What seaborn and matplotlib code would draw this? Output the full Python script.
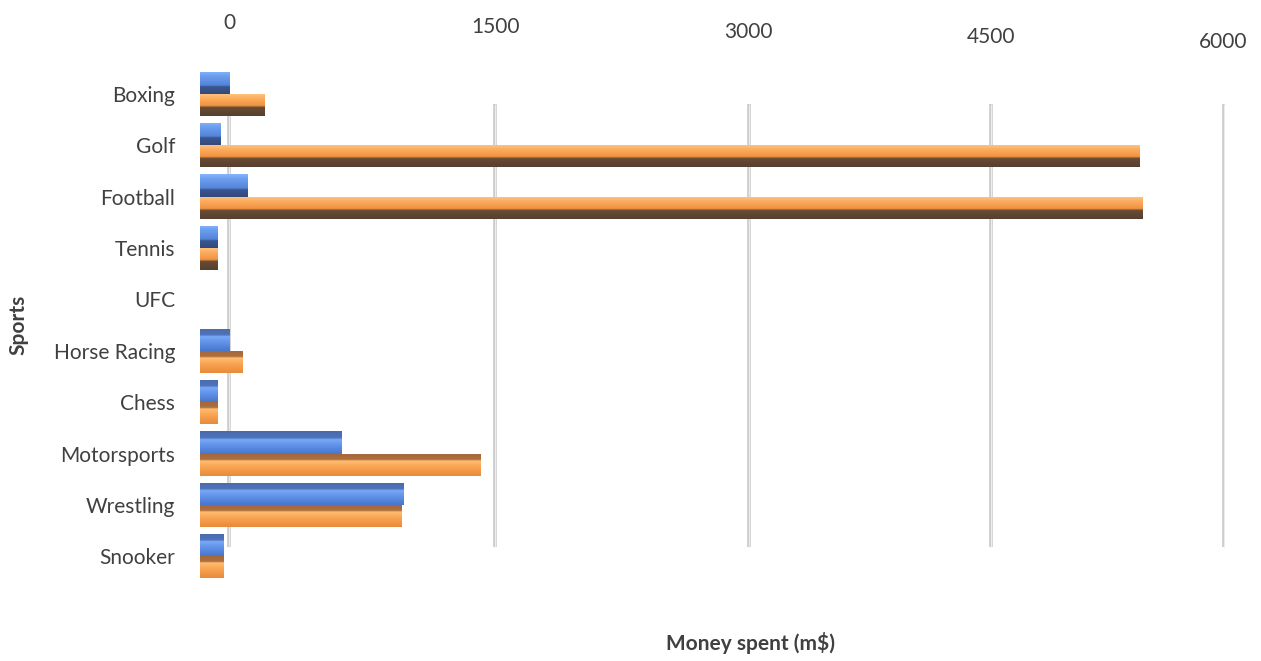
import numpy as np
import pandas as pd
import matplotlib
matplotlib.use("Agg")
import matplotlib.pyplot as plt
import matplotlib.transforms as mtransforms
from matplotlib.colors import to_rgb
import seaborn as sns

# ---- data -------------------------------------------------------------
sports = ["Boxing", "Golf", "Football", "Tennis", "UFC", "Horse Racing",
          "Chess", "Motorsports", "Wrestling", "Snooker"]
series_blue = [170, 120, 280, 100, 0, 170, 100, 830, 1190, 140]
series_orange = [380, 5500, 5520, 100, 0, 250, 100, 1640, 1180, 140]
series_names = ["Series1", "Series2"]
x_ticks = [0, 1500, 3000, 4500, 6000]
x_tick_labels = ["0", "1500", "3000", "4500", "6000"]

# back-wall offsets (points) giving the receding 3-D floor its perspective
wall_dx = [21, 28, 26, 16, -1]
wall_dy = [32.5, 29.6, 26.0, 22.4, 18.6]

sns.set_theme(style="white")
plt.rcParams["font.family"] = ["Lato", "DejaVu Sans"]

df = pd.DataFrame({
    "Sport": sports * 2,
    "Series": [series_names[0]] * len(sports) + [series_names[1]] * len(sports),
    "Value": series_blue + series_orange,
})

W, H = 1261, 661
fig = plt.figure(figsize=(W / 100, H / 100), dpi=100)
ax = fig.add_axes([200 / W, 1 - 582 / H, 1025 / W, 514 / H])

palette = {"Series1": "#5b8de0", "Series2": "#f59a48"}
sns.barplot(data=df, y="Sport", x="Value", hue="Series", hue_order=series_names,
            order=sports, palette=palette, orient="h", width=0.86,
            linewidth=0, legend=False, ax=ax, zorder=3)

# ---- 3-D style shading of each bar -----------------------------------
def ramp(stops, n=80):
    pos = np.array([s[0] for s in stops])
    cols = np.array([to_rgb(s[1]) for s in stops])
    t = np.linspace(0, 1, n)
    return np.stack([np.interp(t, pos, cols[:, k]) for k in range(3)], axis=1)[:, None, :]

shade = {
    # bars above eye level: light front face, dark underside
    ("Series1", "up"): ramp([(0, "#86b4ff"), (0.2, "#6d9ff0"), (0.62, "#5283d8"),
                             (0.68, "#3a5690"), (1, "#33497a")]),
    ("Series2", "up"): ramp([(0, "#ffc785"), (0.2, "#fdae62"), (0.55, "#f0923e"),
                             (0.62, "#6a4b34"), (1, "#54402f")]),
    # bars below eye level: darker top face, then the front face
    ("Series1", "down"): ramp([(0, "#4a6aa8"), (0.3, "#4f74bd"), (0.36, "#7aa9f8"),
                               (0.6, "#6294ea"), (1, "#4876cc")]),
    ("Series2", "down"): ramp([(0, "#a3663a"), (0.28, "#b0703f"), (0.34, "#ffbd70"),
                               (0.6, "#f9a453"), (1, "#e88a3a")]),
}

n_cat = len(sports)
for name, cont in zip(series_names, ax.containers):
    for i, patch in enumerate(cont.patches):
        w = patch.get_width()
        if w <= 0:
            continue
        x0, y0 = patch.get_xy()
        h = patch.get_height()
        key = (name, "up" if i < n_cat / 2 else "down")
        im = ax.imshow(shade[key], extent=[x0, x0 + w, y0 + h, y0],
                       origin="upper", aspect="auto", zorder=4,
                       interpolation="bilinear")
        im.set_clip_path(patch)

ax.set_xlim(0, 6000)
ax.set_ylim(n_cat - 0.5, -0.5)

# ---- back-wall gridlines and value labels ----------------------------
for val, lab, dx, dy in zip(x_ticks, x_tick_labels, wall_dx, wall_dy):
    off = mtransforms.ScaledTranslation(dx / 72, 0, fig.dpi_scale_trans)
    tr = ax.get_xaxis_transform() + off
    ax.plot([val, val], [0.068, 0.93], transform=tr, color="#c9c9c9", lw=2.6,
            zorder=1, solid_capstyle="butt")
    ax.plot([val, val], [0.068, 0.93], transform=tr, color="#ececec", lw=0.9,
            zorder=1.5, solid_capstyle="butt")
    ax.annotate(lab, xy=(val, 1), xycoords=ax.get_xaxis_transform(),
                xytext=(dx, dy), textcoords="offset points", ha="center",
                va="center", fontsize=15, color="#404040", annotation_clip=False)

ax.set_xticks(x_ticks)
ax.set_xticklabels([])
ax.tick_params(axis="x", length=0)
ax.tick_params(axis="y", length=0, pad=18, labelsize=15, labelcolor="#404040")
ax.set_xlabel("")
ax.set_ylabel("")
for s in ax.spines.values():
    s.set_visible(False)
ax.grid(False)

fig.text(750 / W, 1 - 643 / H, "Money spent (m$)", ha="center", va="center",
         fontsize=15, fontweight="bold", color="#404040")
fig.text(18 / W, 1 - 325 / H, "Sports", ha="center", va="center", rotation=90,
         fontsize=15, fontweight="bold", color="#404040")

fig.savefig("out.png", dpi=100)
